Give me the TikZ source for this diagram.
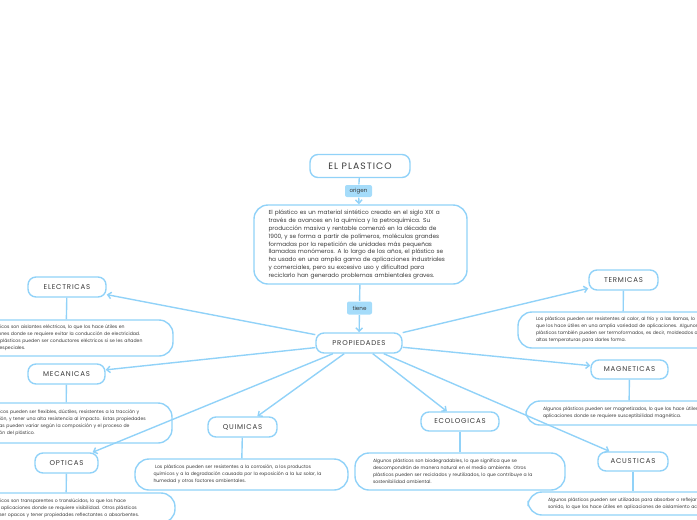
\documentclass[tikz,border=0pt]{standalone}
\usepackage{fontspec}
\setmainfont{Poppins}
\newfontfamily\topicfont{Poppins}[LetterSpace=11]
\usetikzlibrary{arrows.meta}
\definecolor{mapline}{RGB}{145,210,248}
\definecolor{maptag}{RGB}{165,220,250}
\definecolor{mapink}{RGB}{58,58,58}
\newcommand\infolines[1]{\begin{tabular}{@{}l@{}}#1\end{tabular}}
\tikzset{
    >={Straight Barb[length=3.5pt,width=6.5pt]},
    every picture/.style={line width=1.4pt},
    topic/.style={draw=mapline,rounded corners=8pt,text=mapink,inner sep=0pt,
        font=\topicfont\fontsize{7}{8}\selectfont},
    tagbox/.style={fill=maptag,rounded corners=2pt,text=mapink,inner sep=0pt,
        font=\fontsize{5.6}{6}\selectfont},
    infobox/.style={draw=mapline,rounded corners=14pt,text=mapink,inner sep=0pt,
        align=left,font=\fontsize{4.6}{7}\selectfont}
}
\begin{document}
\begin{tikzpicture}[x=1pt,y=-1pt,mapline]
    \useasboundingbox (0,0) rectangle (697,520);
    \clip (0,0) rectangle (697,520);

    % Centre
    \node[topic,minimum width=100pt,minimum height=23pt,font=\topicfont\fontsize{9.3}{11}\selectfont] (plastico) at (360,166) {EL PLASTICO};
    \node[tagbox,minimum width=27pt,minimum height=12pt] (origen) at (358.5,191) {origen};
    \node[infobox,minimum width=213pt,minimum height=79pt,text width=184pt,font=\fontsize{5.8}{7.9}\selectfont] (historia) at (360.5,244.5)
        {\infolines{El plástico es un material sintético creado en el siglo XIX a\\
         través de avances en la química y la petroquímica. Su\\
         producción masiva y rentable comenzó en la década de\\
         1900, y se forma a partir de polímeros, moléculas grandes\\
         formadas por la repetición de unidades más pequeñas\\
         llamadas monómeros. A lo largo de los años, el plástico se\\
         ha usado en una amplia gama de aplicaciones industriales\\
         y comerciales, pero su excesivo uso y dificultad para\\
         reciclarlo han generado problemas ambientales graves.}};
    \node[tagbox,minimum width=25pt,minimum height=13pt] (tiene) at (359.5,308) {tiene};
    \node[topic,minimum width=86pt,minimum height=20pt] (prop) at (359,343) {PROPIEDADES};

    % Propiedades
    \node[topic,minimum width=78pt,minimum height=20pt] (elec) at (67,287) {ELECTRICAS};
    \node[topic,minimum width=77pt,minimum height=20pt] (mec) at (66.5,374) {MECANICAS};
    \node[topic,minimum width=63pt,minimum height=20pt] (opt) at (66.5,463) {OPTICAS};
    \node[topic,minimum width=69pt,minimum height=20pt] (qui) at (242.5,427) {QUIMICAS};
    \node[topic,minimum width=78pt,minimum height=19pt] (eco) at (460,421.5) {ECOLOGICAS};
    \node[topic,minimum width=69pt,minimum height=20pt] (term) at (623.5,280) {TERMICAS};
    \node[topic,minimum width=77pt,minimum height=19pt] (mag) at (629.5,369.5) {MAGNETICAS};
    \node[topic,minimum width=70pt,minimum height=19pt] (acu) at (633,461.5) {ACUSTICAS};

    % Descripciones
    \node[infobox,minimum width=214pt,minimum height=36pt,text width=172pt] (electxt) at (66,338)
        {\infolines{Los plásticos son aislantes eléctricos, lo que los hace útiles en\\
         aplicaciones donde se requiere evitar la conducción de electricidad.\\
         Algunos plásticos pueden ser conductores eléctricos si se les añaden\\
         aditivos especiales.}};
    \node[infobox,minimum width=212pt,minimum height=40pt,text width=174pt] (mectxt) at (66,423)
        {\infolines{Los plásticos pueden ser flexibles, dúctiles, resistentes a la tracción y\\
         compresión, y tener una alta resistencia al impacto. Estas propiedades\\
         mecánicas pueden variar según la composición y el proceso de\\
         fabricación del plástico.}};
    \node[infobox,minimum width=218pt,minimum height=30pt,text width=172pt] (opttxt) at (66,508)
        {\infolines{Los plásticos son transparentes o translúcidos, lo que los hace\\
         útiles en aplicaciones donde se requiere visibilidad. Otros plásticos\\
         pueden ser opacos y tener propiedades reflectantes o absorbentes.}};
    \node[infobox,minimum width=213pt,minimum height=31pt,text width=176pt] (quitxt) at (241.5,474.5)
        {\infolines{\ Los plásticos pueden ser resistentes a la corrosión, a los productos\\
         químicos y a la degradación causada por la exposición a la luz solar, la\\
         humedad y otros factores ambientales.}};
    \node[infobox,minimum width=210pt,minimum height=37pt,text width=174pt] (ecotxt) at (460,471.5)
        {\infolines{Algunos plásticos son biodegradables, lo que significa que se\\
         descompondrán de manera natural en el medio ambiente. Otros\\
         plásticos pueden ser reciclados y reutilizados, lo que contribuye a la\\
         sostenibilidad ambiental.}};
    \node[infobox,minimum width=210pt,minimum height=36pt,text width=174pt] (termtxt) at (623,330)
        {\infolines{Los plásticos pueden ser resistentes al calor, al frío y a las llamas, lo\\
         que los hace útiles en una amplia variedad de aplicaciones. Algunos\\
         plásticos también pueden ser termoformados, es decir, moldeados a\\
         altas temperaturas para darles forma.}};
    \node[infobox,minimum width=206pt,minimum height=24pt,text width=172pt] (magtxt) at (629,413)
        {\infolines{Algunos plásticos pueden ser magnetizados, lo que los hace útiles en\\
         aplicaciones donde se requiere susceptibilidad magnética.}};
    \node[infobox,minimum width=210pt,minimum height=23pt,text width=170pt] (acutxt) at (633,503.5)
        {\infolines{Algunos plásticos pueden ser utilizados para absorber o reflejar el\\
         sonido, lo que los hace útiles en aplicaciones de aislamiento acústico.}};

    % Conectores
    \draw (plastico) -- (origen);
    \draw[->] (origen) -- (historia);
    \draw (historia) -- (tiene);
    \draw[->] (tiene) -- (prop);
    \foreach \p in {elec,mec,opt,qui,eco,term,mag,acu} {
        \draw[->] (prop) -- (\p);
        \draw (\p) -- (\p txt);
    }
\end{tikzpicture}
\end{document}
